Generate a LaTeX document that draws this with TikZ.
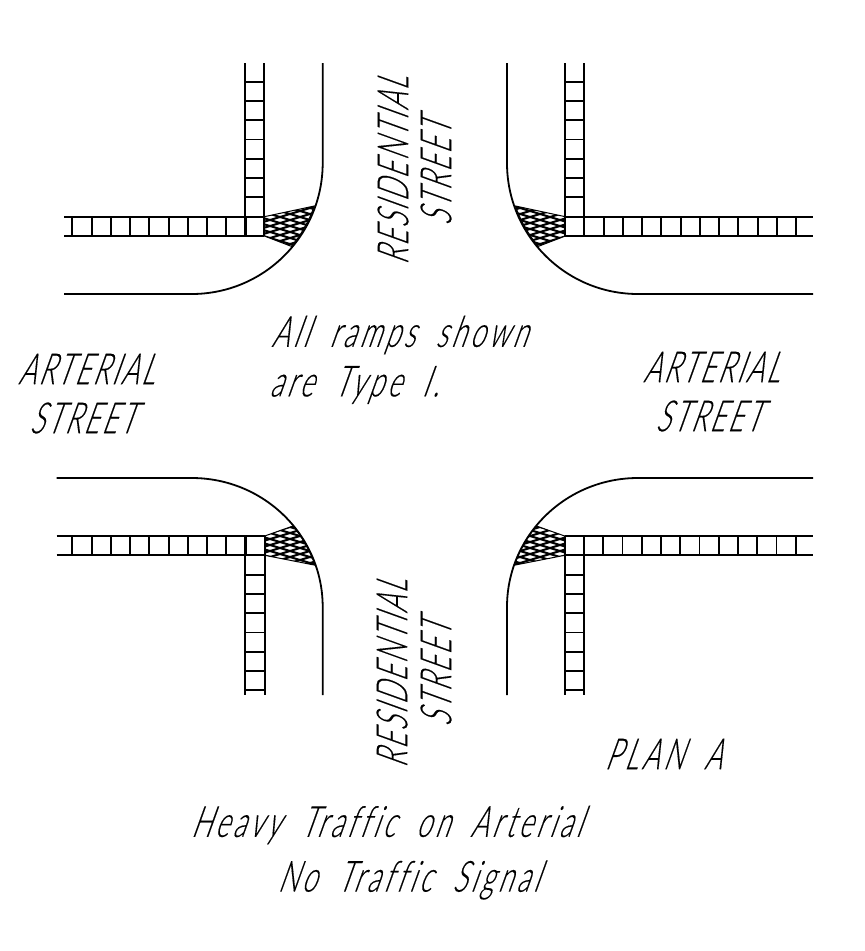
\documentclass[tikz,border=0pt]{standalone}
\usepackage{fontspec}
\newfontfamily\cadfont[UprightFont=* Light,FakeStretch=0.62,FakeBold=0.25,LetterSpace=6,Ligatures=NoCommon,RawFeature={slant=0.36}]{Lato}
\newfontfamily\cadwide[UprightFont=* Light,FakeStretch=0.62,FakeBold=0.25,LetterSpace=9,WordSpace=1.9,Ligatures=NoCommon,RawFeature={slant=0.36}]{Lato}
\usepackage{tikz}
\usetikzlibrary{positioning}

\tikzset{
    curb/.style={line width=1.8pt},
    walk/.style={line width=1.9pt},
    cadtext/.style={font=\fontsize{43}{43}\cadfont, inner sep=0pt},
    cadnote/.style={font=\fontsize{43}{43}\cadwide, inner sep=0pt},
}

% Ramp patch: #1 is the outline, (#2,#3) the middle of the net
\newcommand{\rampnet}[3]{
    \begin{scope}
        \clip #1;
        \foreach \k in {-9,...,9} {
            \draw[line width=2pt] (#2-42,#3+\k*6-12.6) -- ++(84,25.2);
            \draw[line width=2pt] (#2-42,#3+\k*6+12.6) -- ++(84,-25.2);
        }
    \end{scope}
    \draw[line width=1pt] #1;
}

\begin{document}
\begin{tikzpicture}[x=1pt, y=-1pt]
    \useasboundingbox (0,0) rectangle (865,951);
    % Curbs
    \draw[curb] (322.7,63) -- (322.7,163) arc[start angle=0, end angle=90, radius=131] -- (64,294);
    \draw[curb] (507,63) -- (507,163) arc[start angle=180, end angle=90, radius=131] -- (813,294);
    \draw[curb] (56.7,478) -- (191.7,478) arc[start angle=-90, end angle=0, x radius=131, y radius=129] -- (322.7,695);
    \draw[curb] (813,478) -- (638,478) arc[start angle=270, end angle=180, x radius=131, y radius=129] -- (507,695);
    % Sidewalks: top left
    \draw[walk] (245.3,63) -- (245.3,236);
    \draw[walk] (264.3,63) -- (264.3,236);
    \draw[walk] (64,216.7) -- (264.3,216.7);
    \draw[walk] (64,236) -- (264.3,236);
    \foreach \n in {0,...,6} \draw[walk] (245.3,81.7+\n*19.25) -- (264.3,81.7+\n*19.25);
    \foreach \n in {0,...,9} \draw[walk] (72.3+\n*19.25,216.7) -- (72.3+\n*19.25,236);
    % Sidewalks: top right
    \draw[walk] (565.4,63) -- (565.4,236);
    \draw[walk] (584.4,63) -- (584.4,236);
    \draw[walk] (565.4,216.7) -- (813,216.7);
    \draw[walk] (565.4,236) -- (813,236);
    \foreach \n in {0,...,6} \draw[walk] (565.4,81.7+\n*19.25) -- (584.4,81.7+\n*19.25);
    \foreach \n in {1,...,11} \draw[walk] (584.4+\n*19.25,216.7) -- (584.4+\n*19.25,236);
    % Sidewalks: bottom left
    \draw[walk] (245.3,536) -- (245.3,695);
    \draw[walk] (264.7,536) -- (264.7,695);
    \draw[walk] (56.7,536) -- (264.7,536);
    \draw[walk] (56.7,555.3) -- (264.7,555.3);
    \foreach \n in {0,...,6} \draw[walk] (245.3,574.7+\n*19.25) -- (264.7,574.7+\n*19.25);
    \foreach \n in {0,...,9} \draw[walk] (72.3+\n*19.25,536) -- (72.3+\n*19.25,555.3);
    % Sidewalks: bottom right
    \draw[walk] (564.7,536) -- (564.7,695);
    \draw[walk] (584,536) -- (584,695);
    \draw[walk] (564.7,536) -- (813,536);
    \draw[walk] (564.7,555.3) -- (813,555.3);
    \foreach \n in {0,...,6} \draw[walk] (564.7,574.7+\n*19.25) -- (584,574.7+\n*19.25);
    \foreach \n in {1,...,11} \draw[walk] (584+\n*19.25,536) -- (584+\n*19.25,555.3);
    % Ramps
    \rampnet{(264.3,216.7) -- (314.3,206) arc[start angle=19.3, end angle=39.7, radius=131] -- (264.3,236) -- cycle}{290}{226}
    \rampnet{(565.4,216.7) -- (515.4,206) arc[start angle=160.7, end angle=140.3, radius=131] -- (565.4,236) -- cycle}{540}{226}
    \rampnet{(264.7,536) -- (293,526) arc[start angle=-39, end angle=-19, x radius=131, y radius=129] -- (264.7,555.3) -- cycle}{290}{545}
    \rampnet{(564.7,536) -- (536.4,526) arc[start angle=219, end angle=199, x radius=131, y radius=129] -- (564.7,555.3) -- cycle}{540}{545}
    % Labels
    \node[cadtext] (artl) at (86,369) {ARTERIAL};
    \node[cadtext] (strl) at (82,418) {STREET};
    \node[cadtext] (artr) at (711,367) {ARTERIAL};
    \node[cadtext] (strr) at (708,416) {STREET};
    \node[cadtext, rotate=90] (rest) at (393,171) {RESIDENTIAL};
    \node[cadtext, rotate=90] (strt) at (436,173) {STREET};
    \node[cadtext, rotate=90] (resb) at (392,674) {RESIDENTIAL};
    \node[cadtext, rotate=90] (strb) at (436,674) {STREET};
    \node[cadnote] (ramps) at (399,335) {All ramps shown};
    \node[cadnote] (type) at (354,385) {are Type I.};
    \node[cadnote] (plan) at (663,754) {PLAN A};
    \node[cadnote] (heavy) at (386,825) {Heavy Traffic on Arterial};
    \node[cadnote] (signal) at (408,880) {No Traffic Signal};
\end{tikzpicture}
\end{document}
